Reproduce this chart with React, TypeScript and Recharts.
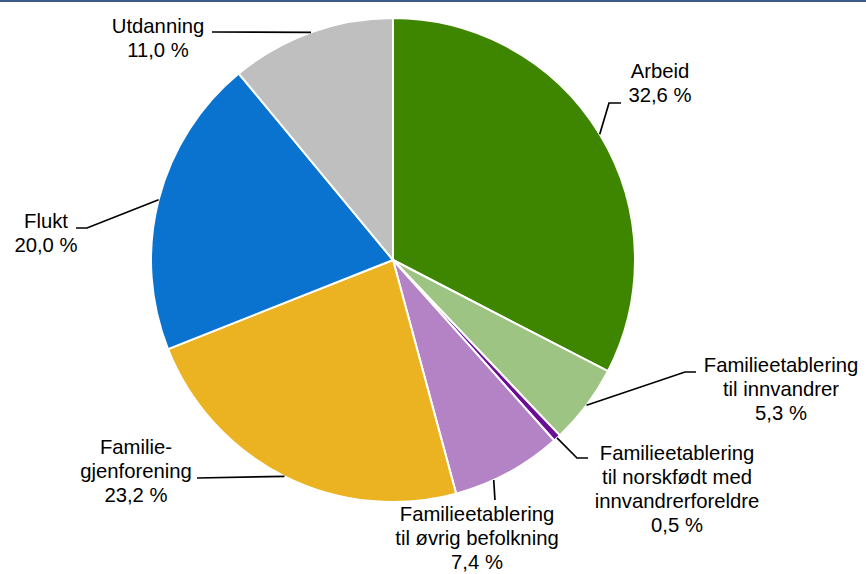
import { PieChart, Pie, Cell } from "recharts";

// andel innvandringer etter innvandringsgrunn (prosent)
const categories = [
  "Arbeid",
  "Familieetablering til innvandrer",
  "Familieetablering til norskfødt med innvandrerforeldre",
  "Familieetablering til øvrig befolkning",
  "Familiegjenforening",
  "Flukt",
  "Utdanning",
];
const shares = [32.6, 5.3, 0.5, 7.4, 23.2, 20.0, 11.0];
const labelLines = [
  ["Arbeid"],
  ["Familieetablering", "til innvandrer"],
  ["Familieetablering", "til norskfødt med", "innvandrerforeldre"],
  ["Familieetablering", "til øvrig befolkning"],
  ["Familie-", "gjenforening"],
  ["Flukt"],
  ["Utdanning"],
];
const colors = ["#3F8600", "#9DC482", "#6B0E96", "#B383C5", "#EBB321", "#0A73D0", "#BFBFBF"];

const data = categories.map((name, i) => ({ name, value: shares[i] }));

// label placement relative to the pie centre (px)
type Layout = { tx: number; ty: number; path: number[][]; angle?: number };
const layout: Layout[] = [
  { tx: 267, ty: -182, path: [[216, -157], [228, -157]] },
  { tx: 388, ty: 112, path: [[292, 112], [303, 112]] },
  { tx: 284, ty: 200, path: [[184, 198], [195, 198]] },
  { tx: 84, ty: 261, path: [[102, 240]], angle: -65.4 },
  { tx: -257, ty: 194, path: [[-196, 218]] },
  { tx: -347, ty: -32, path: [[-306, -32], [-317, -32]] },
  { tx: -235, ty: -227, path: [[-181, -228]] },
];

const RAD = Math.PI / 180;
const fmt = (v: number) => v.toFixed(1).replace(".", ",") + " %";

const renderLabel = (props: any) => {
  const { cx, cy, midAngle, outerRadius, index } = props;
  const l = layout[index];
  const a = (l.angle ?? midAngle) * RAD;
  const sx = cx + outerRadius * Math.cos(a);
  const sy = cy - outerRadius * Math.sin(a);
  const pts = [[sx, sy], ...l.path.map(([x, y]) => [cx + x, cy + y])];
  const lines = [...labelLines[index], fmt(shares[index])];
  return (
    <g key={`lbl-${index}`}>
      <polyline
        points={pts.map((p) => p.join(",")).join(" ")}
        fill="none"
        stroke="#000"
        strokeWidth={1.7}
      />
      <text
        x={cx + l.tx}
        y={cy + l.ty}
        textAnchor="middle"
        fill="#000"
        fontSize={20.3}
        fontFamily="'Liberation Sans', Arial, sans-serif"
      >
        {lines.map((t, i) => (
          <tspan key={i} x={cx + l.tx} dy={i === 0 ? 0 : 24}>
            {t}
          </tspan>
        ))}
      </text>
    </g>
  );
};

export default function App() {
  return (
    <div
      style={{
        position: "fixed",
        left: 0,
        top: 0,
        width: 866,
        height: 574,
        background: "#fff",
        overflow: "hidden",
      }}
    >
      <div style={{ position: "absolute", left: 0, top: 0, width: 866, height: 2, background: "#3A5A8A" }} />
      <PieChart width={866} height={574} margin={{ top: 0, right: 0, bottom: 0, left: 0 }}>
        <Pie
          data={data}
          dataKey="value"
          nameKey="name"
          cx={393}
          cy={260}
          outerRadius={242}
          startAngle={90}
          endAngle={-270}
          stroke="#fff"
          strokeWidth={2}
          label={renderLabel}
          labelLine={false}
          isAnimationActive={false}
        >
          {data.map((d, i) => (
            <Cell key={d.name} fill={colors[i]} />
          ))}
        </Pie>
      </PieChart>
    </div>
  );
}
